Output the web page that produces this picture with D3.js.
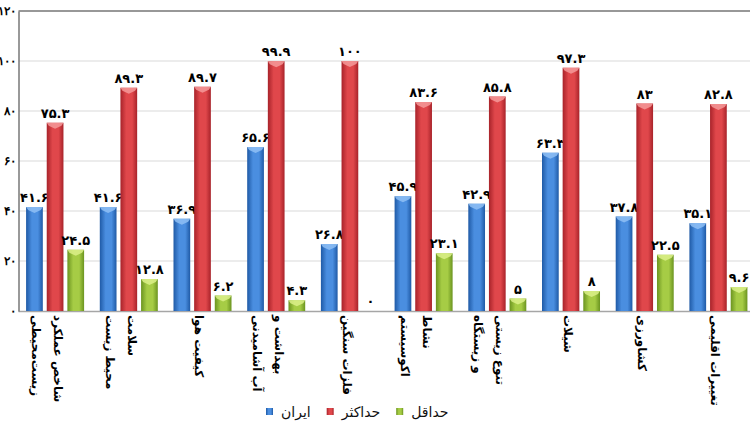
<!DOCTYPE html>
<html>
<head>
<meta charset="utf-8">
<script src="https://cdn.jsdelivr.net/npm/d3@7"></script>
<style>
  body { margin: 0; background: #fff; }
  svg { display: block; font-family: "DejaVu Sans", sans-serif; }
</style>
</head>
<body>
<div id="chart"></div>
<script>

// data
const categories = [
    "شاخص عملکرد\nزیست\u200cمحیطی",
    "سلامت\nمحیط زیست",
    "کیفیت هوا",
    "بهداشت و\nآب آشامیدنی",
    "فلزات سنگین",
    "نشاط\nاکوسیستم",
    "تنوع زیستی\nو زیستگاه",
    "شیلات",
    "کشاورزی",
    "تغییرات اقلیمی"
];
const seriesNames = ["ایران", "حداکثر", "حداقل"];
const iranValues = [41.6, 41.6, 36.9, 65.6, 26.8, 45.9, 42.9, 63.3, 37.8, 35.1];
const maxValues = [75.3, 89.3, 89.7, 99.9, 100, 83.6, 85.8, 97.3, 83, 82.8];
const minValues = [24.5, 12.8, 6.2, 4.3, 0, 23.1, 5, 8, 22.5, 9.6];
const yTicks = [0, 20, 40, 60, 80, 100, 120];

const seriesValues = [iranValues, maxValues, minValues];

// colours: [edge, mid, cap]
const colors = [
    ["#1f5aa6", "#4a8ee0", "#8fc0f5"],
    ["#a8232a", "#e0474b", "#f59a9a"],
    ["#6b9420", "#a6cc45", "#dcf08a"]
];

function fa(n) {
    return String(n).replace(/\d/g, function (d) { return "۰۱۲۳۴۵۶۷۸۹"[d]; });
}

let width = 750;
let height = 430;
let plotLeft = 18.5;
let plotRight = 755;
let plotTop = 11;
let plotBottom = 311;

let svg = d3.select("#chart")
    .append("svg")
    .attr("width", width)
    .attr("height", height);

let defs = svg.append("defs");
colors.forEach(function (c, i) {
    let g = defs.append("linearGradient")
        .attr("id", "grad" + i)
        .attr("x1", "0").attr("x2", "1").attr("y1", "0").attr("y2", "0");
    g.append("stop").attr("offset", "0%").attr("stop-color", c[0]);
    g.append("stop").attr("offset", "35%").attr("stop-color", c[1]);
    g.append("stop").attr("offset", "70%").attr("stop-color", c[1]);
    g.append("stop").attr("offset", "100%").attr("stop-color", c[0]);
});

let xScale = d3.scaleBand()
    .domain(categories)
    .range([plotLeft, plotRight])
    .paddingInner(0.213)
    .paddingOuter(0.103);

let xInner = d3.scaleBand()
    .domain(d3.range(seriesNames.length))
    .range([0, xScale.bandwidth()])
    .paddingInner(0.19);

let yScale = d3.scaleLinear()
    .domain([0, 120])
    .range([plotBottom, plotTop]);

/* grid lines */
svg.append("g")
    .selectAll("line")
    .data(yTicks.filter(function (t) { return t > 0 && t < 120; }))
    .join("line")
    .attr("x1", plotLeft)
    .attr("x2", width)
    .attr("y1", function (d) { return yScale(d); })
    .attr("y2", function (d) { return yScale(d); })
    .attr("stroke", "#d9d9d9")
    .attr("stroke-width", 1);

// top border
svg.append("line")
    .attr("x1", plotLeft).attr("x2", width)
    .attr("y1", yScale(120)).attr("y2", yScale(120))
    .attr("stroke", "#333").attr("stroke-width", 1.2);

// bottom axis line
svg.append("line")
    .attr("x1", plotLeft).attr("x2", width)
    .attr("y1", plotBottom + 0.5).attr("y2", plotBottom + 0.5)
    .attr("stroke", "#a6a6a6").attr("stroke-width", 1.5);

/* y axis */
let yAxis = d3.axisLeft()
    .scale(yScale)
    .tickValues(yTicks)
    .tickSize(0)
    .tickPadding(3)
    .tickFormat(fa);

let yg = svg.append("g")
    .attr("transform", "translate(" + plotLeft + ",0)")
    .call(yAxis);
yg.select(".domain").attr("stroke", "#777").attr("stroke-width", 1.5);
yg.selectAll("text")
    .attr("font-size", 12)
    .attr("font-weight", "bold")
    .attr("fill", "#000");

/* bars, one series at a time so later bars sit on earlier labels */
seriesValues.forEach(function (vals, s) {
    let g = svg.append("g");
    let bw = xInner.bandwidth();
    vals.forEach(function (v, i) {
        let x = xScale(categories[i]) + xInner(s);
        let y = yScale(v);
        let h = plotBottom - y;
        if (h > 0) {
            g.append("rect")
                .attr("x", x).attr("y", y)
                .attr("width", bw).attr("height", h)
                .attr("fill", "url(#grad" + s + ")");
            g.append("path")
                .attr("d", "M" + x + "," + y + "L" + (x + bw) + "," + y +
                    "L" + (x + bw - 2) + "," + (y + 3) + "L" + (x + bw / 2) + "," + (y + 6) +
                    "L" + (x + 2) + "," + (y + 3) + "Z")
                .attr("fill", colors[s][2])
                .attr("opacity", 0.85);
        }
        g.append("text")
            .attr("x", x + bw / 2)
            .attr("y", y - 5)
            .attr("text-anchor", "middle")
            .attr("font-size", 13)
            .attr("font-weight", "bold")
            .attr("fill", "#000")
            .text(fa(v));
    });
});

/* category labels, rotated */
let catG = svg.append("g");
categories.forEach(function (c) {
    let lines = c.split("\n");
    let cx = xScale(c) + xScale.bandwidth() / 2;
    let t = catG.append("text")
        .attr("transform", "translate(" + (cx + (lines.length > 1 ? 3 : -3)) + "," + (plotBottom + 4) + ") rotate(90)")
        .attr("font-size", 12)
        .attr("font-weight", "bold")
        .attr("fill", "#000")
        .attr("dominant-baseline", "central");
    lines.forEach(function (l, k) {
        t.append("tspan")
            .attr("x", 0)
            .attr("y", k * 22)
            .text(l);
    });
});

/* legend */
let legend = svg.append("g").attr("transform", "translate(266,412)");
let lx = 0;
seriesNames.forEach(function (name, s) {
    let item = legend.append("g").attr("transform", "translate(" + lx + ",0)");
    item.append("rect")
        .attr("x", 0).attr("y", -4)
        .attr("width", 7).attr("height", 7)
        .attr("fill", "url(#grad" + s + ")");
    let txt = item.append("text")
        .attr("x", 15)
        .attr("y", 0)
        .attr("dominant-baseline", "central")
        .attr("font-size", 14)
        .attr("fill", "#111")
        .text(name);
    lx += 15 + txt.node().getComputedTextLength() + 16;
});

</script>
</body>
</html>
